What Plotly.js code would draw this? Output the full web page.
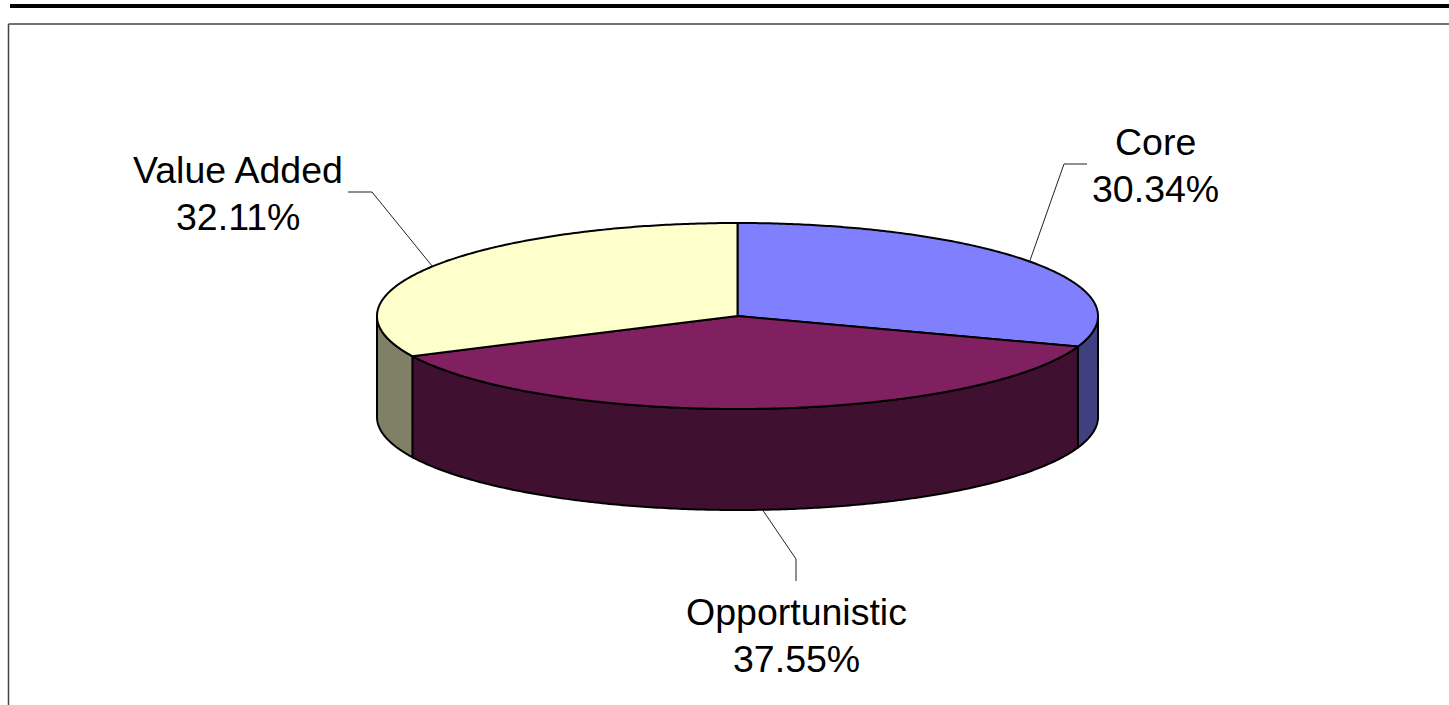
<!DOCTYPE html>
<html>
<head>
<meta charset="utf-8">
<script src="https://cdn.plot.ly/plotly-3.0.1.min.js"></script>
<style>html,body{margin:0;padding:0;background:#fff;overflow:hidden}#c{width:1449px;height:705px}</style>
</head>
<body>
<div id="c"></div>
<script>
const categories = ["Core", "Opportunistic", "Value Added"];
const shares = [30.34, 37.55, 32.11];
const topColors = ["#8080FF", "#802060", "#FFFFCC"];
const sideColors = ["#404080", "#401030", "#808066"];

const W = 1449, H = 705;
const cx = 737.5, cy = 316, rx = 360.5, ry = 93, depth = 101;
const labelSpots = [
  {x: 1155, y1: 142, y2: 189, elbow: [1064, 164], end: [1087, 164], low: 0, nudge: -2},
  {x: 796, y1: 612, y2: 659, elbow: [796, 559], end: [796, 581], low: 1, nudge: 5},
  {x: 238, y1: 170, y2: 217, elbow: [372, 192], end: [348, 192], low: 0, nudge: 0}
];

const total = shares.reduce((a, b) => a + b, 0);
const px = (t, dy) => [cx + rx * Math.sin(t), cy - ry * Math.cos(t) + (dy || 0)];
function arc(a, b, dy) {
  const n = Math.max(2, Math.ceil(Math.abs(b - a) / 0.01));
  const out = [];
  for (let i = 0; i <= n; i++) out.push(px(a + (b - a) * i / n, dy));
  return out;
}
function poly(points, fill) {
  return {
    type: "scatter", mode: "lines", x: points.map(p => p[0]), y: points.map(p => p[1]),
    fill: "toself", fillcolor: fill, line: {color: "#000", width: 2, simplify: false},
    hoverinfo: "skip", showlegend: false
  };
}
const sides = [], tops = [], leaders = [], annotations = [];
const font = {family: "Liberation Sans, Arial, sans-serif", size: 37.5, color: "#000"};
let start = 0;
shares.forEach((v, i) => {
  const sweep = v / total * 2 * Math.PI, end = start + sweep;
  const a = Math.max(start, Math.PI / 2), b = Math.min(end, 3 * Math.PI / 2);
  if (b > a) sides.push(poly(arc(a, b, 0).concat(arc(b, a, depth), [px(a, 0)]), sideColors[i]));
  tops.push(poly([[cx, cy]].concat(arc(start, end, 0), [[cx, cy]]), topColors[i]));
  const s = labelSpots[i], mid = start + sweep / 2;
  const anchor = px(mid, s.low ? depth : 0);
  leaders.push({
    type: "scatter", mode: "lines", x: [anchor[0] + s.nudge, s.elbow[0], s.end[0]], y: [anchor[1], s.elbow[1], s.end[1]],
    line: {color: "#222", width: 1}, hoverinfo: "skip", showlegend: false
  });
  annotations.push({x: s.x, y: s.y1, text: categories[i], showarrow: false, xanchor: "center", yanchor: "middle", font});
  annotations.push({x: s.x, y: s.y2, text: v.toFixed(2) + "%", showarrow: false, xanchor: "center", yanchor: "middle", font});
  start = end;
});

const layout = {
  width: W, height: H, margin: {l: 0, r: 0, t: 0, b: 0},
  paper_bgcolor: "#fff", plot_bgcolor: "#fff", showlegend: false,
  xaxis: {range: [0, W], visible: false, fixedrange: true},
  yaxis: {range: [H, 0], visible: false, fixedrange: true},
  annotations,
  shapes: [
    {type: "line", xref: "x", yref: "y", x0: 10, x1: W, y0: 6, y1: 6, line: {color: "#000", width: 4}},
    {type: "line", xref: "x", yref: "y", x0: 8.5, x1: W, y0: 24, y1: 24, line: {color: "#444", width: 1.5}},
    {type: "line", xref: "x", yref: "y", x0: 8.5, x1: 8.5, y0: 24, y1: H, line: {color: "#444", width: 1.5}}
  ]
};
Plotly.newPlot("c", sides.concat(tops, leaders), layout, {displayModeBar: false, staticPlot: true});
</script>
</body>
</html>
